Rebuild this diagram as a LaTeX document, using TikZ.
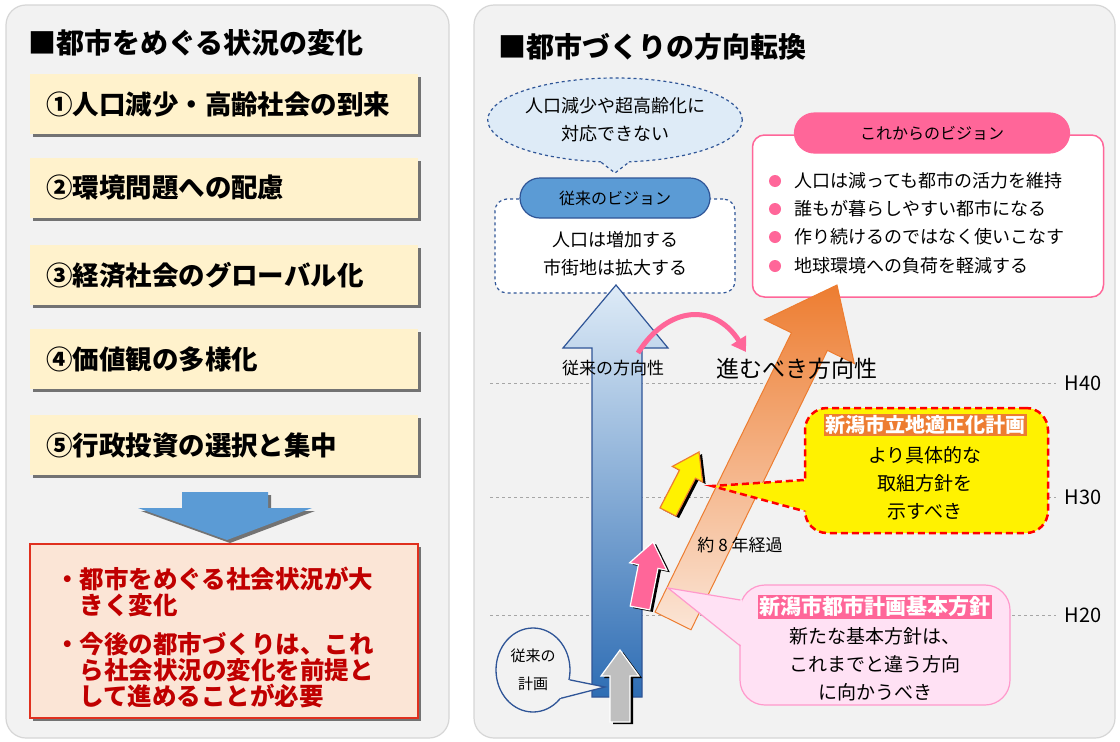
\documentclass[tikz,border=0pt]{standalone}
\usepackage{fontspec}
\setmainfont{Noto Sans CJK JP}
\usetikzlibrary{shapes.geometric,shadows,arrows.meta}

\definecolor{panelbg}{HTML}{F2F2F2}
\definecolor{panelline}{HTML}{D6D6D6}
\definecolor{itemfill}{HTML}{FFF2CC}
\definecolor{steelblue}{HTML}{5B9BD5}
\definecolor{navyline}{HTML}{2F5597}
\definecolor{paleblue}{HTML}{DEEBF7}
\definecolor{midblue}{HTML}{93B5DD}
\definecolor{deepblue}{HTML}{2E6DB4}
\definecolor{salmonfill}{HTML}{FBE5D6}
\definecolor{redline}{HTML}{E0301E}
\definecolor{darkred}{HTML}{C00000}
\definecolor{hotpink}{HTML}{FF6699}
\definecolor{orangeline}{HTML}{ED7D31}
\definecolor{orangemid}{HTML}{F5B894}
\definecolor{lightpink}{HTML}{FFE1F4}
\definecolor{pinkline}{HTML}{FF99CC}

\tikzset{
  panel/.style={draw=panelline, fill=panelbg, line width=1.2pt, rounded corners=20pt},
  headtext/.style={anchor=west, inner sep=0pt, font=\fontsize{28}{30}\selectfont\bfseries},
  itembox/.style={fill=itemfill, minimum height=60pt, text width=356pt, inner xsep=16pt, inner ysep=0pt, align=left,
    font=\fontsize{26.5}{28}\selectfont\bfseries, drop shadow={shadow xshift=3pt, shadow yshift=-3pt, fill=black!55, opacity=1}},
  bodytext/.style={inner sep=0pt, align=center, font=\fontsize{18}{28}\selectfont},
  pill/.style={rounded corners=20pt, minimum height=40pt, inner sep=0pt, line width=1.2pt, font=\fontsize{16}{18}\selectfont},
  gridline/.style={gray!70, line width=0.8pt, dash pattern=on 3pt off 3pt},
  hlabel/.style={inner sep=0pt, font=\fontsize{20}{20}\selectfont},
  bulletdot/.style={circle, fill=hotpink, inner sep=0pt, minimum size=12pt},
  bullettext/.style={anchor=west, inner sep=0pt, font=\fontsize{18}{20}\selectfont},
  tag/.style={inner sep=1.5pt, text=white, font=\fontsize{20}{22}\selectfont\bfseries},
  smallarrow/.style={line width=1.2pt, drop shadow={shadow xshift=3pt, shadow yshift=-2pt, fill=black, opacity=1}},
}

\begin{document}
\begin{tikzpicture}[x=1pt,y=-1pt]
  \useasboundingbox (0,0) rectangle (1120,742);
  \fill[white] (0,0) rectangle (1120,742);

  % left panel
  \draw[panel] (6,5) rectangle (449,738);
  \node[headtext] (lefthead) at (28,43) {■都市をめぐる状況の変化};
  \node[itembox] (item1) at (224,104) {①人口減少・高齢社会の到来};
  \node[itembox] (item2) at (224,188) {②環境問題への配慮};
  \node[itembox] (item3) at (224,275) {③経済社会のグローバル化};
  \node[itembox] (item4) at (224,359) {④価値観の多様化};
  \node[itembox] (item5) at (224,445) {⑤行政投資の選択と集中};
  \fill[steelblue, drop shadow={shadow xshift=3pt, shadow yshift=-3pt, fill=black!55, opacity=1}]
    (182,492) -- (268,492) -- (268,508) -- (312,508) -- (227,540) -- (138,508) -- (182,508) -- cycle;
  \node[draw=redline, line width=1.5pt, fill=salmonfill, minimum width=388pt, minimum height=174pt,
    drop shadow={shadow xshift=3pt, shadow yshift=-3pt, fill=black!55, opacity=1}] (summary) at (224,631) {};
  \node[anchor=north west, align=left, inner sep=0pt, text=darkred, font=\fontsize{24.5}{26}\selectfont\bfseries] (sumtxt) at (55,567)
    {・都市をめぐる社会状況が大\\\hspace*{1em}きく変化\\[13pt]・今後の都市づくりは、これ\\\hspace*{1em}ら社会状況の変化を前提と\\\hspace*{1em}して進めることが必要};

  % right panel
  \draw[panel] (474,5) rectangle (1115,738);
  \node[headtext] (righthead) at (498,47) {■都市づくりの方向転換};

  \node[hlabel] (h40) at (1083,383) {H40};
  \node[hlabel] (h30) at (1083,497) {H30};
  \node[hlabel] (h20) at (1083,615) {H20};
  \draw[gridline] (490,383) -- ([xshift=-8pt]h40.west);
  \draw[gridline] (490,497) -- ([xshift=-8pt]h30.west);
  \draw[gridline] (490,615) -- ([xshift=-8pt]h20.west);

  % old vision
  \node[ellipse, draw=navyline, dashed, line width=1.2pt, fill=paleblue, minimum width=240pt, minimum height=84pt,
    inner sep=0pt, align=center, font=\fontsize{18}{28}\selectfont] (worry) at (615,120) {人口減少や超高齢化に\\対応できない};
  \coordinate (worrytip) at (615,173);
  \fill[paleblue] ([yshift=2pt]worry.250) -- (worrytip) -- ([yshift=2pt]worry.290) -- cycle;
  \draw[navyline, dashed, line width=1.2pt] (worry.252) -- (worrytip) -- (worry.288);

  \node[draw=navyline, dashed, line width=1.2pt, fill=white, rounded corners=12pt, minimum width=240pt, minimum height=94pt] (oldvis) at (615,246) {};
  \node[bodytext] (oldvistxt) at (615,254) {人口は増加する\\市街地は拡大する};
  \node[pill, fill=steelblue, draw=navyline, minimum width=190pt] (oldvislabel) at (615,198) {従来のビジョン};

  \shade[draw=navyline, line width=1.2pt, top color=paleblue, middle color=midblue, bottom color=deepblue]
    (592,697) -- (592,348) -- (563,348) -- (616,285) -- (668,348) -- (642,348) -- (642,697) -- cycle;
  \node[inner sep=0pt, font=\fontsize{17}{20}\selectfont] (oldway) at (613,368) {従来の方向性};

  % new vision
  \node[draw=hotpink, line width=1.5pt, fill=white, rounded corners=12pt, minimum width=351pt, minimum height=162pt] (newvis) at (928,216) {};
  \node[pill, fill=hotpink, draw=hotpink, minimum width=275pt] (newvislabel) at (932,133) {これからのビジョン};
  \node[bulletdot] (dot1) at (775,181) {};
  \node[bulletdot] (dot2) at (775,209) {};
  \node[bulletdot] (dot3) at (775,237) {};
  \node[bulletdot] (dot4) at (775,266) {};
  \node[bullettext] (goal1) at (794,181) {人口は減っても都市の活力を維持};
  \node[bullettext] (goal2) at (794,209) {誰もが暮らしやすい都市になる};
  \node[bullettext] (goal3) at (794,237) {作り続けるのではなく使いこなす};
  \node[bullettext] (goal4) at (794,266) {地球環境への負荷を軽減する};

  \shade[draw=orangeline, line width=1pt, top color=orangeline, middle color=orangemid, bottom color=salmonfill]
    (655,612) -- (791.4,332.8) -- (764.5,319.7) -- (837,285) -- (854.3,363.5) -- (827.4,350.4) -- (691,629.8) -- cycle;

  \coordinate (curvestart) at (638,353);
  \coordinate (curveend) at (746,352);
  \draw[hotpink, line width=5pt, -{Triangle[length=14pt,width=17pt]}] (curvestart) .. controls (668,305) and (715,303) .. (curveend);
  \node[inner sep=0pt, font=\fontsize{23}{26}\selectfont] (newway) at (797,369) {進むべき方向性};

  % small arrows
  \filldraw[smallarrow, draw=orangeline, fill=yellow]
    (660,507.9) -- (679.5,470.1) -- (672.4,466.4) -- (699,452) -- (702.6,482) -- (695.5,478.3) -- (676,516.1) -- cycle;
  \filldraw[smallarrow, draw=white, fill=hotpink]
    (630.2,606.1) -- (638.4,564.6) -- (629.6,562.8) -- (653,542) -- (666.8,570.2) -- (658,568.4) -- (649.8,609.9) -- cycle;

  % callout for the location plan
  \node[draw=red, fill=yellow, line width=2.5pt, dash pattern=on 7pt off 4pt, rounded corners=22pt,
    minimum width=243pt, minimum height=125pt] (planbox) at (926.5,470.5) {};
  \coordinate (plantip) at (712,486);
  \fill[yellow] ([xshift=3pt,yshift=-9.5pt]planbox.west) -- (plantip) -- ([xshift=3pt,yshift=-40.5pt]planbox.west) -- cycle;
  \draw[red, line width=2.5pt, dash pattern=on 7pt off 4pt] ([yshift=-9.5pt]planbox.west) -- (plantip) -- ([yshift=-40.5pt]planbox.west);
  \node[tag, fill=orangeline] (planname) at (925,425) {新潟市立地適正化計画};
  \node[bodytext, font=\fontsize{19}{28}\selectfont] (plantxt) at (925,483) {より具体的な\\取組方針を\\示すべき};

  \node[inner sep=0pt, font=\fontsize{17}{20}\selectfont] (eightyears) at (740,545) {約 8 年経過};

  % callout for the master plan
  \node[draw=pinkline, fill=lightpink, line width=1.2pt, rounded corners=25pt, minimum width=270pt, minimum height=120pt] (policybox) at (875,645) {};
  \coordinate (policytip) at (668,588);
  \fill[lightpink] ([xshift=3pt,yshift=45pt]policybox.west) -- (policytip) -- ([xshift=3pt,yshift=-1pt]policybox.west) -- cycle;
  \draw[pinkline, line width=1.2pt] ([xshift=1pt,yshift=45pt]policybox.west) -- (policytip) -- ([xshift=1pt,yshift=-1pt]policybox.west);
  \node[tag, fill=hotpink, font=\fontsize{21}{22}\selectfont\bfseries] (policyname) at (875,607) {新潟市都市計画基本方針};
  \node[bodytext, font=\fontsize{19}{28}\selectfont] (policytxt) at (875,664) {新たな基本方針は、\\これまでと違う方向\\に向かうべき};

  % old plan
  \filldraw[smallarrow, draw=white, fill=black!25]
    (610,722) -- (610,676) -- (601,676) -- (620,650) -- (639,676) -- (630,676) -- (630,722) -- cycle;
  \node[ellipse, draw=navyline, line width=1.3pt, fill=panelbg, minimum width=74pt, minimum height=84pt, inner sep=0pt,
    align=center, font=\fontsize{15}{28}\selectfont] (oldplan) at (533,670) {従来の\\計画};
  \coordinate (oldplantip) at (605,687);
  \fill[panelbg] ([xshift=-2pt]oldplan.-15) -- (oldplantip) -- ([xshift=-2pt]oldplan.-45) -- cycle;
  \draw[navyline, line width=1.3pt] (oldplan.-15) -- (oldplantip) -- (oldplan.-45);
\end{tikzpicture}
\end{document}
